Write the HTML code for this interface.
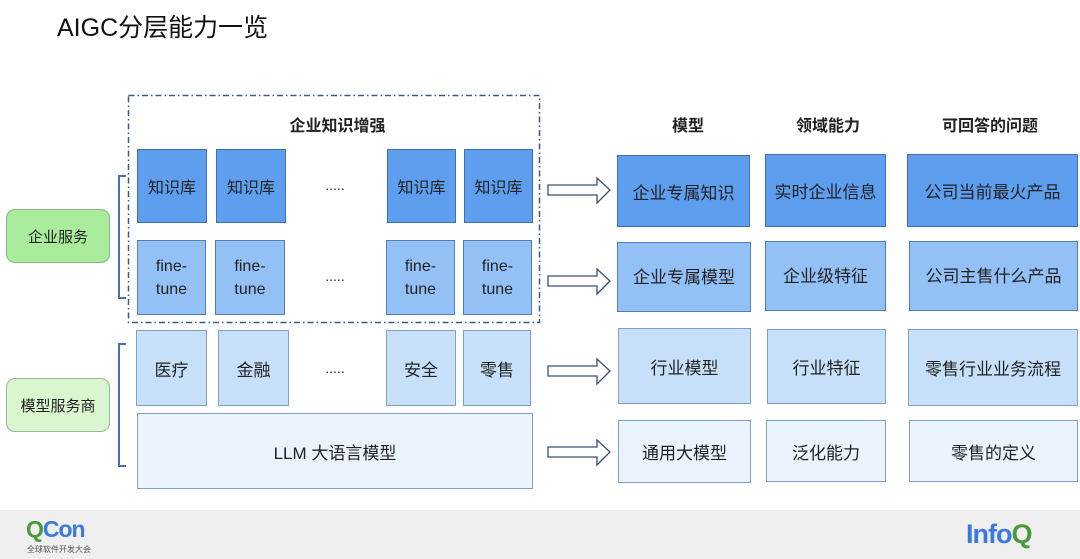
<!DOCTYPE html>
<html><head><meta charset="utf-8"><style>
body{margin:0;width:1080px;height:559px;background:#fff;position:relative;overflow:hidden;font-family:"Liberation Sans","Noto Sans CJK SC",sans-serif;color:#222}
.a{position:absolute;box-sizing:border-box;display:flex;align-items:center;justify-content:center;text-align:center}
.k{background:#5e9eef;border:1.5px solid #3f6fae;font-size:16px}
.f{background:#93c0f5;border:1.5px solid #4f7db5;font-size:16px;line-height:23px}
.i{background:#c7e0f9;border:1.5px solid #7f9fc4;font-size:17px}
.l{background:#ebf3fc;border:1.5px solid #7f9fc4;font-size:17px}
.r{font-size:17px}
.h{font-weight:bold;font-size:16px}
.d{font-size:14px}
</style></head><body>
<div style="position:absolute;left:57px;top:8px;font-size:25px;color:#111">AIGC分层能力一览</div>

<svg style="position:absolute;left:0;top:0" width="1080" height="559">
<rect x="128.5" y="95.5" width="411" height="227" fill="none" stroke="#3a5a8a" stroke-width="1.5" stroke-dasharray="6,3,1.5,3"/>
</svg>
<div class="a h" style="left:240px;top:112px;width:195px;height:24px">企业知识增强</div>

<div class="a k" style="left:137px;top:149px;width:70px;height:74px">知识库</div>
<div class="a k" style="left:216px;top:149px;width:70px;height:74px">知识库</div>
<div class="a d" style="left:300px;top:175px;width:70px;height:20px">.....</div>
<div class="a k" style="left:387px;top:149px;width:69px;height:74px">知识库</div>
<div class="a k" style="left:464px;top:149px;width:69px;height:74px">知识库</div>

<div class="a f" style="left:137px;top:240px;width:69px;height:75px">fine-<br>tune</div>
<div class="a f" style="left:215px;top:240px;width:70px;height:75px">fine-<br>tune</div>
<div class="a d" style="left:300px;top:266px;width:70px;height:20px">.....</div>
<div class="a f" style="left:386px;top:240px;width:69px;height:75px">fine-<br>tune</div>
<div class="a f" style="left:463px;top:240px;width:69px;height:75px">fine-<br>tune</div>

<div class="a i" style="left:136px;top:330px;width:71px;height:76px">医疗</div>
<div class="a i" style="left:218px;top:330px;width:71px;height:76px">金融</div>
<div class="a d" style="left:300px;top:358px;width:70px;height:20px">.....</div>
<div class="a i" style="left:386px;top:330px;width:70px;height:76px">安全</div>
<div class="a i" style="left:463px;top:330px;width:68px;height:76px">零售</div>

<div class="a l" style="left:137px;top:413px;width:396px;height:76px">LLM 大语言模型</div>

<div class="a" style="left:6px;top:209px;width:104px;height:54px;background:#a9ec9b;border:1.5px solid #8bb58a;border-radius:9px;font-size:15px">企业服务</div>
<div class="a" style="left:6px;top:378px;width:104px;height:54px;background:#d9f6d0;border:1.5px solid #9bb59a;border-radius:9px;font-size:15px">模型服务商</div>

<div style="position:absolute;left:118px;top:175px;width:8px;height:124px;border:2px solid #4a6fb0;border-right:none;box-sizing:border-box"></div>
<div style="position:absolute;left:118px;top:343px;width:8px;height:124px;border:2px solid #4a6fb0;border-right:none;box-sizing:border-box"></div>

<svg style="position:absolute;left:0;top:0" width="1080" height="559">
<g fill="#fff" stroke="#3a4f7a" stroke-width="1.3">
<polygon points="548,185 597,185 597,178 610,190 597,203 597,195 548,195"/>
<polygon points="548,276 597,276 597,269 610,281 597,294 597,286 548,286"/>
<polygon points="548,366 597,366 597,359 610,371 597,384 597,376 548,376"/>
<polygon points="548,447 597,447 597,440 610,452 597,465 597,457 548,457"/>
</g></svg>

<div class="a h" style="left:640px;top:112px;width:96px;height:24px">模型</div>
<div class="a h" style="left:770px;top:112px;width:116px;height:24px">领域能力</div>
<div class="a h" style="left:920px;top:112px;width:140px;height:24px">可回答的问题</div>

<div class="a k r" style="left:617px;top:155px;width:133px;height:72px">企业专属知识</div>
<div class="a k r" style="left:765px;top:154px;width:121px;height:73px">实时企业信息</div>
<div class="a k r" style="left:907px;top:154px;width:171px;height:73px">公司当前最火产品</div>

<div class="a f r" style="left:617px;top:242px;width:134px;height:70px">企业专属模型</div>
<div class="a f r" style="left:765px;top:241px;width:121px;height:70px">企业级特征</div>
<div class="a f r" style="left:909px;top:241px;width:169px;height:70px">公司主售什么产品</div>

<div class="a i" style="left:618px;top:328px;width:133px;height:76px">行业模型</div>
<div class="a i" style="left:767px;top:329px;width:119px;height:75px">行业特征</div>
<div class="a i" style="left:908px;top:329px;width:170px;height:77px">零售行业业务流程</div>

<div class="a l" style="left:618px;top:420px;width:133px;height:63px">通用大模型</div>
<div class="a l" style="left:766px;top:420px;width:120px;height:62px">泛化能力</div>
<div class="a l" style="left:909px;top:420px;width:169px;height:62px">零售的定义</div>

<div style="position:absolute;left:0;top:510px;width:1080px;height:49px;background:#efefef"></div>
<div style="position:absolute;left:26px;top:516px;font-size:23px;font-weight:bold;color:#4a9a3a;letter-spacing:-1px">Q<span style="color:#3a7ae0">Con</span></div>
<div style="position:absolute;left:27px;top:544px;font-size:8px;color:#555">全球软件开发大会</div>
<div style="position:absolute;left:966px;top:519px;font-size:27px;font-weight:bold;color:#3a7ae0;letter-spacing:-1px">Info<span style="color:#4a9a3a">Q</span></div>
</body></html>
